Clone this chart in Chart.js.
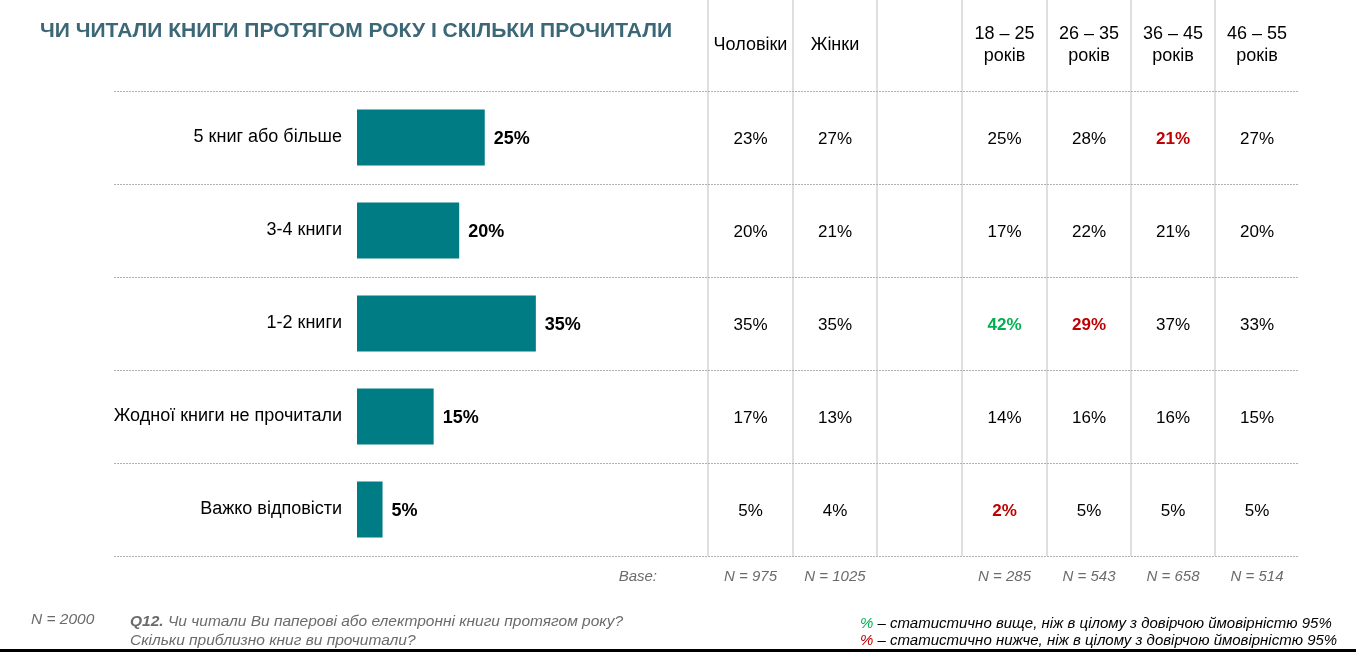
<!DOCTYPE html>
<html>
<head>
<meta charset="utf-8">
<script src="https://cdn.jsdelivr.net/npm/chart.js@4.4.1/dist/chart.umd.min.js"></script>
<style>
html,body{margin:0;padding:0;background:#fff;}
#wrap{position:relative;width:1356px;height:652px;}
canvas{display:block;}
</style>
</head>
<body>
<div id="wrap"><canvas id="c" width="1356" height="652"></canvas></div>
<script>
// ---- data ----
const categories = ["5 книг або більше", "3-4 книги", "1-2 книги", "Жодної книги не прочитали", "Важко відповісти"];
const totalValues = [25, 20, 35, 15, 5];
const columnHeaders = [["Чоловіки"], ["Жінки"], [""], ["18 – 25", "років"], ["26 – 35", "років"], ["36 – 45", "років"], ["46 – 55", "років"]];
const menValues   = [23, 20, 35, 17, 5];
const womenValues = [27, 21, 35, 13, 4];
const age18_25 = [25, 17, 42, 14, 2];
const age26_35 = [28, 22, 29, 16, 5];
const age36_45 = [21, 21, 37, 16, 5];
const age46_55 = [27, 20, 33, 15, 5];
// significance flags: 1 = higher (green), -1 = lower (red), 0 = none
const sig18_25 = [0, 0, 1, 0, -1];
const sig26_35 = [0, 0, -1, 0, 0];
const sig36_45 = [-1, 0, 0, 0, 0];
const sig46_55 = [0, 0, 0, 0, 0];
const baseLabels = ["N = 975", "N = 1025", "", "N = 285", "N = 543", "N = 658", "N = 514"];
const titleText = "ЧИ ЧИТАЛИ КНИГИ ПРОТЯГОМ РОКУ І СКІЛЬКИ ПРОЧИТАЛИ";
const totalN = "N = 2000";
const questionBold = "Q12.";
const questionLines = [" Чи читали Ви паперові або електронні книги протягом року?", "Скільки приблизно книг ви прочитали?"];
const legendLines = [" – статистично вище, ніж в цілому з довірчою ймовірністю 95%", " – статистично нижче, ніж в цілому з довірчою ймовірністю 95%"];

const tableCols = [
  {vals: menValues, sig: [0,0,0,0,0]},
  {vals: womenValues, sig: [0,0,0,0,0]},
  null,
  {vals: age18_25, sig: sig18_25},
  {vals: age26_35, sig: sig26_35},
  {vals: age36_45, sig: sig36_45},
  {vals: age46_55, sig: sig46_55}
];

const FONT = '"Liberation Sans", Arial, sans-serif';
const TEAL = '#007c84';
const GREEN = '#00b050';
const RED = '#c00000';
const GREY = '#6b6b6b';
const colEdges = [708, 793, 877, 962, 1047, 1131, 1215, 1299];

function fitText(ctx, text, x, y, targetW) {
  const w = ctx.measureText(text).width;
  ctx.save();
  ctx.translate(x, y);
  ctx.scale(targetW / w, 1);
  ctx.fillText(text, 0, 0);
  ctx.restore();
}

const tablePlugin = {
  id: 'tablePlugin',
  beforeDatasetsDraw(chart) {
    const ctx = chart.ctx;
    const y = chart.scales.y;
    const area = chart.chartArea;
    ctx.save();
    ctx.strokeStyle = '#d4d4d4';
    ctx.lineWidth = 1.5;
    for (let i = 0; i < 7; i++) {
      ctx.beginPath();
      ctx.moveTo(colEdges[i], 0);
      ctx.lineTo(colEdges[i], area.bottom);
      ctx.stroke();
    }
    ctx.strokeStyle = '#b0b0b0';
    ctx.lineWidth = 1;
    ctx.setLineDash([2, 1]);
    const n = categories.length;
    for (let i = 0; i <= n; i++) {
      let py;
      if (i === 0) py = area.top;
      else if (i === n) py = area.bottom;
      else py = (y.getPixelForValue(i - 1) + y.getPixelForValue(i)) / 2;
      py = Math.round(py) + 0.5;
      ctx.beginPath();
      ctx.moveTo(114, py);
      ctx.lineTo(1299, py);
      ctx.stroke();
    }
    ctx.restore();
  },
  afterDatasetsDraw(chart) {
    const ctx = chart.ctx;
    const y = chart.scales.y;
    ctx.save();
    // bar value labels
    const meta = chart.getDatasetMeta(0);
    ctx.font = 'bold 18px ' + FONT;
    ctx.fillStyle = '#000';
    ctx.textAlign = 'left';
    ctx.textBaseline = 'middle';
    meta.data.forEach((bar, i) => {
      ctx.fillText(totalValues[i] + '%', bar.x + 9, bar.y + 2);
    });
    // title
    ctx.font = 'bold 20px ' + FONT;
    ctx.fillStyle = '#3b6776';
    ctx.textAlign = 'left';
    fitText(ctx, titleText, 40, 31, 632);
    // headers
    ctx.font = '18px ' + FONT;
    ctx.fillStyle = '#000';
    ctx.textAlign = 'center';
    columnHeaders.forEach((h, i) => {
      const cx = (colEdges[i] + colEdges[i + 1]) / 2;
      if (h.length === 1) ctx.fillText(h[0], cx, 45);
      else { ctx.fillText(h[0], cx, 34); ctx.fillText(h[1], cx, 56); }
    });
    // table values
    tableCols.forEach((col, ci) => {
      if (!col) return;
      const cx = (colEdges[ci] + colEdges[ci + 1]) / 2;
      col.vals.forEach((v, ri) => {
        const s = col.sig[ri];
        ctx.font = (s ? 'bold ' : '') + '17px ' + FONT;
        ctx.fillStyle = s === 1 ? GREEN : (s === -1 ? RED : '#000');
        ctx.fillText(v + '%', cx, y.getPixelForValue(ri) + 2);
      });
    });
    // base row
    ctx.font = 'italic 15px ' + FONT;
    ctx.fillStyle = GREY;
    ctx.textAlign = 'right';
    ctx.fillText('Base:', 657, 577);
    ctx.textAlign = 'center';
    baseLabels.forEach((b, i) => {
      if (!b) return;
      const cx = (colEdges[i] + colEdges[i + 1]) / 2;
      ctx.fillText(b, cx, 577);
    });
    // footer
    ctx.textAlign = 'left';
    ctx.font = 'italic 15.5px ' + FONT;
    ctx.fillText(totalN, 31, 620);
    ctx.font = 'bold italic 15.5px ' + FONT;
    const qw = ctx.measureText(questionBold).width;
    ctx.fillText(questionBold, 130, 622);
    ctx.font = 'italic 15.5px ' + FONT;
    ctx.fillText(questionLines[0], 130 + qw, 622);
    ctx.fillText(questionLines[1], 130, 641);
    // legend
    ctx.font = 'italic 15px ' + FONT;
    const pw = ctx.measureText('%').width;
    ctx.fillStyle = GREEN;
    ctx.fillText('%', 860, 624);
    ctx.fillStyle = '#000';
    ctx.fillText(legendLines[0], 860 + pw, 624);
    ctx.fillStyle = RED;
    ctx.fillText('%', 860, 641);
    ctx.fillStyle = '#000';
    ctx.fillText(legendLines[1], 860 + pw, 641);
    // bottom rule
    ctx.fillStyle = '#000';
    ctx.fillRect(0, 649, 1356, 3);
    ctx.restore();
  }
};

new Chart(document.getElementById('c'), {
  type: 'bar',
  data: {
    labels: categories,
    datasets: [{
      data: totalValues,
      backgroundColor: TEAL,
      borderWidth: 0,
      barPercentage: 0.6,
      categoryPercentage: 1.0
    }]
  },
  options: {
    indexAxis: 'y',
    responsive: false,
    animation: false,
    devicePixelRatio: 1,
    layout: { padding: { left: 0, right: 488, top: 91, bottom: 96 } },
    plugins: { legend: { display: false }, tooltip: { enabled: false }, title: { display: false } },
    scales: {
      x: { display: false, min: 0, max: 100 },
      y: {
        grid: { display: false, drawTicks: false },
        border: { display: false },
        ticks: { color: '#000', font: { family: FONT, size: 18 }, padding: 15 },
        afterFit(scale) { scale.width = 357; }
      }
    }
  },
  plugins: [tablePlugin]
});
</script>
</body>
</html>
